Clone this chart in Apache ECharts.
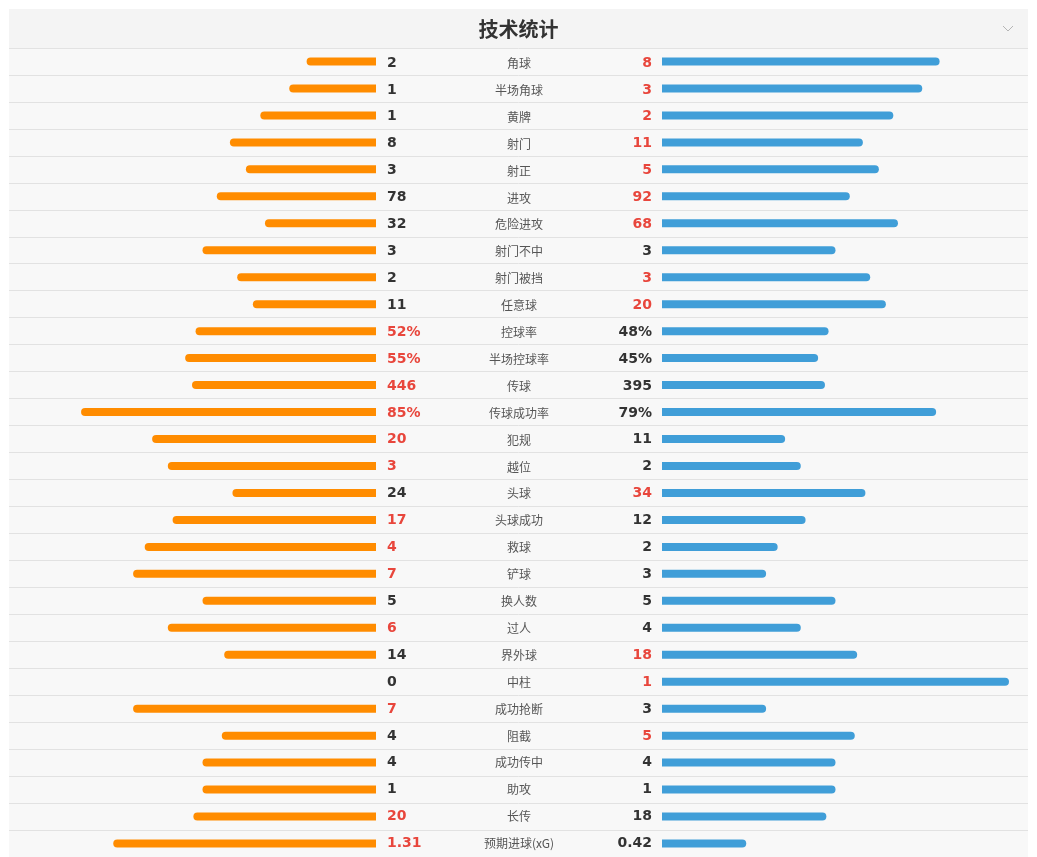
<!DOCTYPE html>
<html>
<head>
<meta charset="utf-8">
<script src="https://cdn.jsdelivr.net/npm/echarts@6/dist/echarts.min.js"></script>
<style>
html,body{margin:0;padding:0;background:#fff;}
#main{width:1037px;height:857px;}
</style>
</head>
<body>
<div id="main"></div>
<script>
var titleText = '技术统计';
var categories = ['角球','半场角球','黄牌','射门','射正','进攻','危险进攻','射门不中','射门被挡','任意球','控球率','半场控球率','传球','传球成功率','犯规','越位','头球','头球成功','救球','铲球','换人数','过人','界外球','中柱','成功抢断','阻截','成功传中','助攻','长传','预期进球(xG)'];
var homeValues = [2,1,1,8,3,78,32,3,2,11,52,55,446,85,20,3,24,17,4,7,5,6,14,0,7,4,4,1,20,1.31];
var awayValues = [8,3,2,11,5,92,68,3,3,20,48,45,395,79,11,2,34,12,2,3,5,4,18,1,3,5,4,1,18,0.42];
var isPercent = [false,false,false,false,false,false,false,false,false,false,true,true,false,true,false,false,false,false,false,false,false,false,false,false,false,false,false,false,false,false];

var RED = '#e8463c', DARK = '#333333';
function fmt(v, i){ return String(v) + (isPercent[i] ? '%' : ''); }
function share(v, o, i){
  if (isPercent[i]) return v / 100;
  var s = v + o; return s > 0 ? v / s : 0;
}
var homeShare = homeValues.map(function(v,i){ return share(v, awayValues[i], i); });
var awayShare = awayValues.map(function(v,i){ return share(v, homeValues[i], i); });
var homeLabels = homeValues.map(fmt);
var awayLabels = awayValues.map(fmt);

var chart = echarts.init(document.getElementById('main'));
var TOP = 48, H = 810;
var numFont = {fontFamily:'DejaVu Sans', fontWeight:'bold', fontSize:14};
var hidden = {axisLine:{show:false}, axisTick:{show:false}, splitLine:{show:false}};

chart.setOption({
  backgroundColor:'#ffffff',
  animation:false,
  graphic:[
    {type:'rect', z:-10, shape:{x:9,y:9,width:1019,height:39}, style:{fill:'#f4f4f4'}},
    {type:'text', z:10, x:518.5, y:29, style:{text:titleText, align:'center', verticalAlign:'middle', fontFamily:'Noto Sans CJK SC', fontSize:20, fontWeight:'bold', fill:'#333'}},
    {type:'polyline', z:10, shape:{points:[[1003,26],[1008,31],[1013,26]]}, style:{stroke:'#b5b5b5', lineWidth:1, fill:null}}
  ],
  grid:[
    {left:9, width:1019, top:TOP, height:H, show:true, backgroundColor:'#f8f8f8', borderWidth:0, z:0},
    {left:29, width:347, top:TOP, height:H},
    {left:662, width:347, top:TOP, height:H},
    {left:375, width:1, top:TOP+1.5, height:H},
    {left:662, width:1, top:TOP+1.5, height:H},
    {left:519, width:1, top:TOP+2, height:H}
  ],
  xAxis:[
    {gridIndex:0, type:'value', min:0, max:1, show:false},
    {gridIndex:1, type:'value', min:0, max:1, inverse:true, show:false},
    {gridIndex:2, type:'value', min:0, max:1, show:false},
    {gridIndex:3, type:'value', min:0, max:1, show:false},
    {gridIndex:4, type:'value', min:0, max:1, show:false},
    {gridIndex:5, type:'value', min:0, max:1, show:false}
  ],
  yAxis:[
    {gridIndex:0, type:'category', data:categories, inverse:true, axisLine:{show:false}, axisTick:{show:false}, axisLabel:{show:false},
     splitLine:{show:true, interval:0, lineStyle:{color:'#e2e2e2', width:1}}},
    Object.assign({gridIndex:1, type:'category', data:categories, inverse:true, axisLabel:{show:false}}, hidden),
    Object.assign({gridIndex:2, type:'category', data:categories, inverse:true, axisLabel:{show:false}}, hidden),
    Object.assign({gridIndex:3, type:'category', data:homeLabels, inverse:true, position:'right',
     axisLabel:Object.assign({interval:0, align:'left', margin:11, color:function(v,i){ return homeValues[i] > awayValues[i] ? RED : DARK; }}, numFont)}, hidden),
    Object.assign({gridIndex:4, type:'category', data:awayLabels, inverse:true, position:'left',
     axisLabel:Object.assign({interval:0, align:'right', margin:10, color:function(v,i){ return awayValues[i] > homeValues[i] ? RED : DARK; }}, numFont)}, hidden),
    Object.assign({gridIndex:5, type:'category', data:categories, inverse:true, position:'left',
     axisLabel:{interval:0, align:'center', margin:0, color:'#555', fontSize:12, fontFamily:'Noto Sans CJK SC'}}, hidden)
  ],
  series:[
    {type:'bar', xAxisIndex:1, yAxisIndex:1, data:homeShare, barWidth:8, itemStyle:{color:'#ff8c00', borderRadius:[4,0,0,4]}, silent:true},
    {type:'bar', xAxisIndex:2, yAxisIndex:2, data:awayShare, barWidth:8, itemStyle:{color:'#409ed8', borderRadius:[0,4,4,0]}, silent:true}
  ]
});
</script>
</body>
</html>
